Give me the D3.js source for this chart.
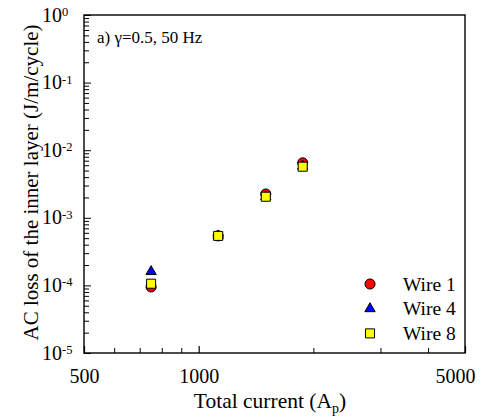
<!DOCTYPE html>
<meta charset="utf-8">
<head>
    <title>AC loss</title>
    <script src="https://d3js.org/d3.v7.min.js"></script>
</head>
<style>
    body { margin: 0; background: #fff; }
    svg text { font-family: "Liberation Serif", "DejaVu Serif", serif; fill: #000; }
    .domain, .tick line { stroke: #000; }
</style>
<body>
<div id="chart"></div>
<script>
    // data
    var currents = [750, 1125, 1500, 1875];
    var wire1 = [9.5e-5, 5.4e-4, 2.25e-3, 6.5e-3];
    var wire4 = [1.6e-4, 5.4e-4, 2.05e-3, 5.8e-3];
    var wire8 = [1.06e-4, 5.4e-4, 2.05e-3, 5.7e-3];
    var xMajor = [500, 1000, 5000];
    var xMinor = [600, 700, 800, 900, 2000, 3000, 4000];
    var yExp = [0, -1, -2, -3, -4, -5];

    var width = 483, height = 418;
    var margin = {left: 84, right: 18, top: 15, bottom: 65};
    var serif = "'Liberation Serif', 'DejaVu Serif', serif";

    var svg = d3.select("#chart").append("svg")
        .attr("width", width)
        .attr("height", height)
        .attr("font-family", serif);

    var x = d3.scaleLog().domain([500, 5000]).range([margin.left, width - margin.right]);
    var y = d3.scaleLog().domain([1e-5, 1]).range([height - margin.bottom, margin.top]);

    // frame
    svg.append("rect")
        .attr("x", x(500)).attr("y", y(1))
        .attr("width", x(5000) - x(500)).attr("height", y(1e-5) - y(1))
        .attr("fill", "none").attr("stroke", "#000").attr("stroke-width", 1.4);

    // x axis
    var gx = svg.append("g").attr("transform", "translate(0," + y(1e-5) + ")");
    gx.call(d3.axisBottom(x).tickValues(xMajor).tickSizeInner(-7).tickSizeOuter(0)
            .tickPadding(16).tickFormat(d3.format("d")))
        .call(function (g) { g.select(".domain").remove(); })
        .selectAll("text").style("font-size", "20px").style("font-family", serif)
        .attr("dx", function (d) { return d === 5000 ? -10 : 0; });
    gx.call(function (g) { g.selectAll(".tick line").attr("stroke-width", 1.2); });
    svg.append("g").attr("transform", "translate(0," + y(1e-5) + ")")
        .call(d3.axisBottom(x).tickValues(xMinor).tickSizeInner(-5).tickSizeOuter(0).tickFormat(""))
        .call(function (g) { g.select(".domain").remove(); });

    // y axis
    var yMinor = [];
    yExp.forEach(function (e) {
        if (e < 0) for (var k = 2; k <= 9; k++) yMinor.push(k * Math.pow(10, e));
    });
    svg.append("g").attr("transform", "translate(" + x(500) + ",0)")
        .call(d3.axisLeft(y).tickValues(yExp.map(function (e) { return Math.pow(10, e); }))
            .tickSizeInner(-7).tickSizeOuter(0).tickFormat(""))
        .call(function (g) { g.select(".domain").remove(); });
    svg.append("g").attr("transform", "translate(" + x(500) + ",0)")
        .call(d3.axisLeft(y).tickValues(yMinor).tickSizeInner(-5).tickSizeOuter(0).tickFormat(""))
        .call(function (g) { g.select(".domain").remove(); });

    svg.append("g").selectAll("text").data(yExp).enter().append("text")
        .attr("x", 62)
        .attr("y", function (d) { return y(Math.pow(10, d)) + 6.5; })
        .attr("text-anchor", "end")
        .style("font-size", "20px")
        .text("10");
    svg.append("g").selectAll("text").data(yExp).enter().append("text")
        .attr("x", 62)
        .attr("y", function (d) { return y(Math.pow(10, d)) + 1; })
        .style("font-size", "12.5px")
        .text(function (d) { return d === 0 ? "0" : "-" + (-d); });

    // axis titles
    var xt = svg.append("text")
        .attr("x", 270)
        .attr("y", 408)
        .attr("text-anchor", "middle")
        .style("font-size", "21.5px");
    xt.append("tspan").text("Total current (A");
    xt.append("tspan").attr("dy", 5).style("font-size", "14px").text("p");
    xt.append("tspan").attr("dy", -5).text(")");

    svg.append("text")
        .attr("transform", "translate(38,182.5) rotate(-90)")
        .attr("text-anchor", "middle")
        .style("font-size", "21px")
        .text("AC loss of the inner layer (J/m/cycle)");

    svg.append("text")
        .attr("x", 97).attr("y", 43)
        .style("font-size", "17px")
        .text("a) \u03B3=0.5, 50 Hz");

    // markers
    var series = [
        {name: "Wire 1", values: wire1, shape: d3.symbolCircle, size: 80, color: "#ff0000"},
        {name: "Wire 4", values: wire4, shape: d3.symbolTriangle, size: 46, color: "#0000ff"},
        {name: "Wire 8", values: wire8, shape: d3.symbolSquare, size: 82, color: "#ffff00"}
    ];

    series.forEach(function (s) {
        svg.append("g").selectAll("path").data(s.values).enter().append("path")
            .attr("d", d3.symbol().type(s.shape).size(s.size))
            .attr("transform", function (d, i) {
                return "translate(" + x(currents[i]) + "," + y(d) + ")";
            })
            .attr("fill", s.color)
            .attr("stroke", "#000")
            .attr("stroke-width", 1);
    });

    // legend
    var leg = svg.append("g").selectAll("g").data(series).enter().append("g")
        .attr("transform", function (d, i) { return "translate(370," + (284 + i * 24.7) + ")"; });
    leg.append("path")
        .attr("d", function (d) { return d3.symbol().type(d.shape).size(d.size)(); })
        .attr("fill", function (d) { return d.color; })
        .attr("stroke", "#000");
    leg.append("text")
        .attr("x", 33).attr("y", 6.5)
        .style("font-size", "19.5px")
        .text(function (d) { return d.name; });
</script>
</body>
</html>
